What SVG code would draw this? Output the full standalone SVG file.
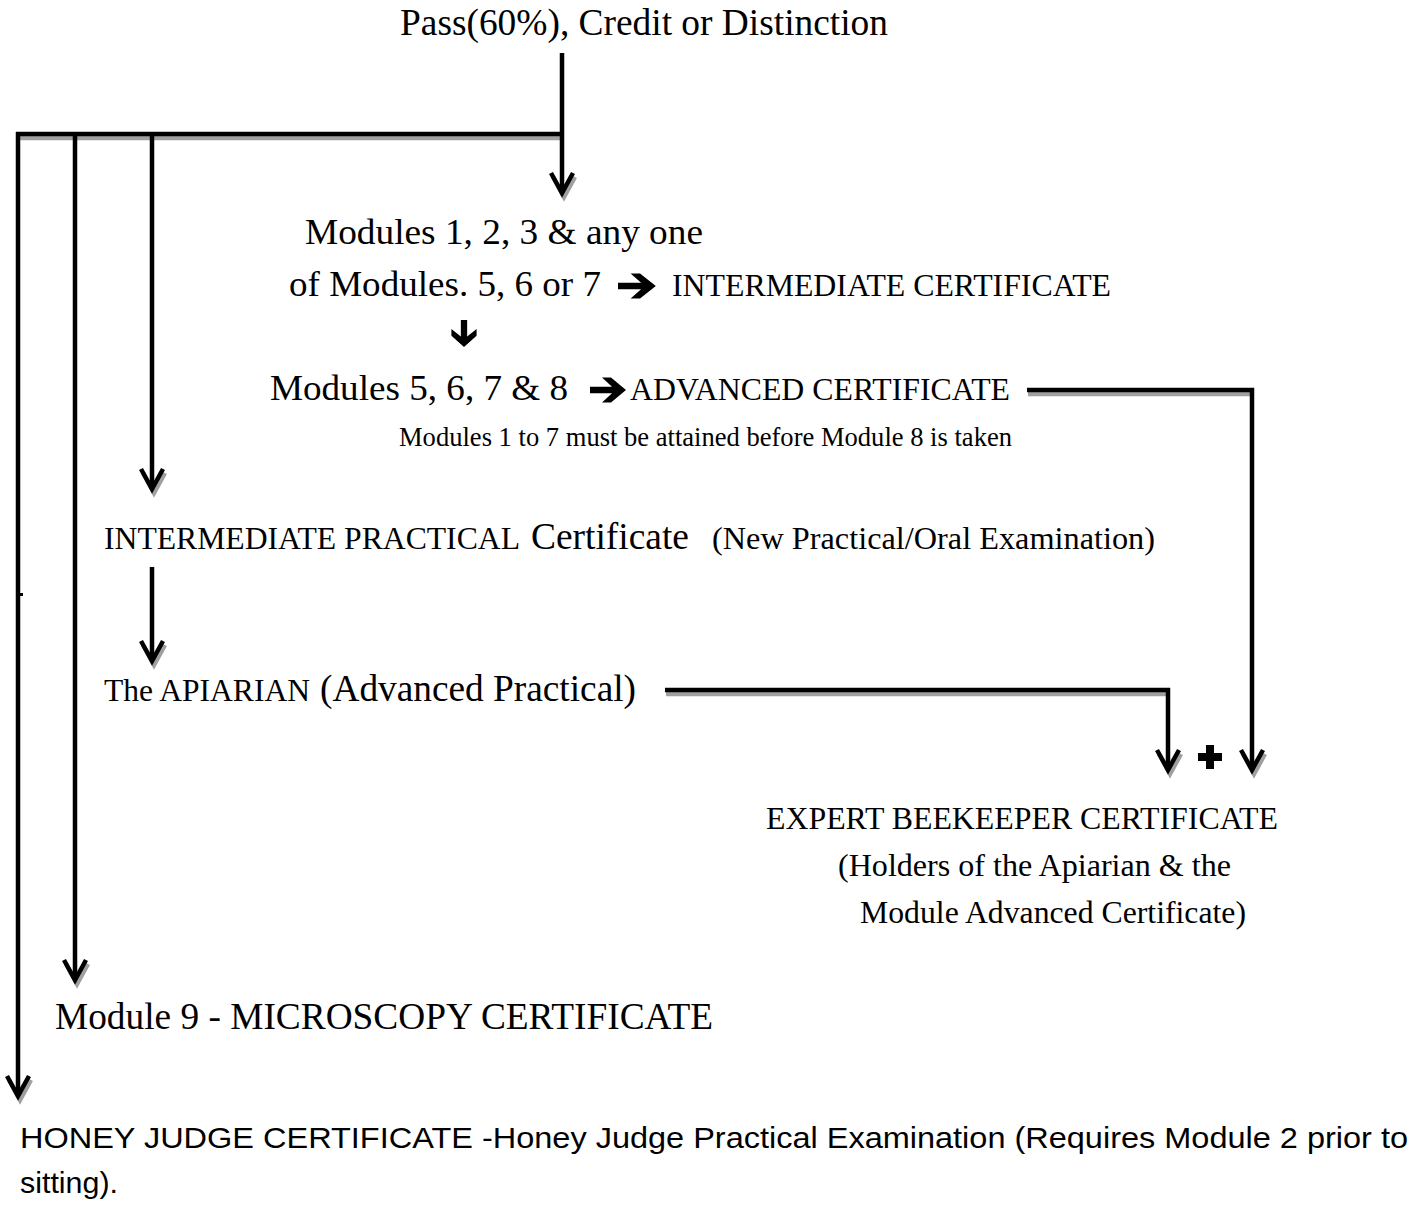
<svg xmlns="http://www.w3.org/2000/svg" width="1424" height="1207" viewBox="0 0 1424 1207">
<style>
.t{font-family:"Liberation Serif","Times New Roman",Times,serif;fill:#000}
.s{font-family:"Liberation Sans",Arial,sans-serif;fill:#000}
.ln{fill:none;stroke:#000;stroke-width:4.5;stroke-linejoin:miter;stroke-linecap:butt}
.sh{fill:none;stroke:#a0a0a0;stroke-width:4.5;stroke-linejoin:miter}
.ah{fill:none;stroke:#000;stroke-width:4.5;stroke-linejoin:miter}
.ash{fill:none;stroke:#a0a0a0;stroke-width:4.5;stroke-linejoin:miter}
.hv{fill:#000}
</style>
<defs>
  <path id="heavy" d="M0 -3.5 H22 L12 -14 H21 L36 0 L21 14 H12 L22 3.5 H0 Z"/>
</defs>
<rect width="1424" height="1207" fill="#fff"/>
<g id="connectors">
  <g transform="translate(1,4)">
    <path class="sh" d="M16 134 H562"/>
    <path class="sh" d="M1027 390 H1252"/>
    <path class="sh" d="M665 690 H1168"/>
  </g>
  <g transform="translate(2,4)">
    <path class="ash" d="M551 173 L562 193 L573 173"/>
    <path class="ash" d="M7 1076 L18 1096 L29 1076"/>
    <path class="ash" d="M64 960 L75 980 L86 960"/>
    <path class="ash" d="M141 469 L152 489 L163 469"/>
    <path class="ash" d="M141 641 L152 661 L163 641"/>
    <path class="ash" d="M1157 750 L1168 770 L1179 750"/>
    <path class="ash" d="M1241 750 L1252 770 L1263 750"/>
  </g>
  <path class="ln" d="M562 53 V192"/>
  <path class="ln" d="M16 134 H562"/>
  <path class="ln" d="M18 132 V1094"/>
  <path class="ln" d="M75 132 V978"/>
  <path class="ln" d="M152 132 V487"/>
  <path class="ln" d="M152 567 V659"/>
  <path class="ln" d="M1027 390 H1252 V768"/>
  <path class="ln" d="M665 690 H1168 V768"/>
  <path class="ah" d="M551 173 L562 193 L573 173"/>
  <path class="ah" d="M7 1076 L18 1096 L29 1076"/>
  <path class="ah" d="M64 960 L75 980 L86 960"/>
  <path class="ah" d="M141 469 L152 489 L163 469"/>
  <path class="ah" d="M141 641 L152 661 L163 641"/>
  <path class="ah" d="M1157 750 L1168 770 L1179 750"/>
  <path class="ah" d="M1241 750 L1252 770 L1263 750"/>
  <rect x="20" y="593" width="3" height="3" fill="#000"/>
</g>
<g id="node-pass">
  <text class="t" x="400" y="35" font-size="37" textLength="488" lengthAdjust="spacingAndGlyphs">Pass(60%), Credit or Distinction</text>
</g>
<g id="node-intermediate">
  <text class="t" x="305" y="244" font-size="36.5" textLength="398" lengthAdjust="spacingAndGlyphs">Modules 1, 2, 3 &amp; any one</text>
  <text class="t" x="289" y="296" font-size="36" textLength="312" lengthAdjust="spacingAndGlyphs">of Modules. 5, 6 or 7</text>
  <use href="#heavy" class="hv" transform="translate(618,286) scale(1.05,0.9)"/>
  <text class="t" x="672" y="296" font-size="31" textLength="439" lengthAdjust="spacingAndGlyphs">INTERMEDIATE CERTIFICATE</text>
  <use href="#heavy" class="hv" transform="translate(464,320) rotate(90) scale(0.75,0.9)"/>
</g>
<g id="node-advanced">
  <text class="t" x="270" y="400" font-size="36" textLength="298" lengthAdjust="spacingAndGlyphs">Modules 5, 6, 7 &amp; 8</text>
  <use href="#heavy" class="hv" transform="translate(590,390) scale(1.0,0.9)"/>
  <text class="t" x="630" y="400" font-size="31" textLength="380" lengthAdjust="spacingAndGlyphs">ADVANCED CERTIFICATE</text>
  <text class="t" x="399" y="446" font-size="26.5" textLength="613" lengthAdjust="spacingAndGlyphs">Modules 1 to 7 must be attained before Module 8 is taken</text>
</g>
<g id="node-int-practical">
  <text class="t" x="104" y="549" font-size="31" textLength="416" lengthAdjust="spacingAndGlyphs">INTERMEDIATE PRACTICAL</text>
  <text class="t" x="531" y="549" font-size="37" textLength="158" lengthAdjust="spacingAndGlyphs">Certificate</text>
  <text class="t" x="712" y="549" font-size="32" textLength="443" lengthAdjust="spacingAndGlyphs">(New Practical/Oral Examination)</text>
</g>
<g id="node-apiarian">
  <text class="t" x="104" y="701" font-size="31" textLength="206" lengthAdjust="spacingAndGlyphs">The APIARIAN</text>
  <text class="t" x="320" y="701" font-size="37" textLength="316" lengthAdjust="spacingAndGlyphs">(Advanced Practical)</text>
</g>
<g id="node-plus">
  <path class="hv" d="M1206 745 H1214 V753 H1222 V761 H1214 V769 H1206 V761 H1198 V753 H1206 Z"/>
</g>
<g id="node-expert">
  <text class="t" x="766" y="829" font-size="31" textLength="512" lengthAdjust="spacingAndGlyphs">EXPERT BEEKEEPER CERTIFICATE</text>
  <text class="t" x="838" y="876" font-size="31" textLength="393" lengthAdjust="spacingAndGlyphs">(Holders of the Apiarian &amp; the</text>
  <text class="t" x="860" y="923" font-size="31" textLength="386" lengthAdjust="spacingAndGlyphs">Module Advanced Certificate)</text>
</g>
<g id="node-microscopy">
  <text class="t" x="55" y="1029" font-size="37" textLength="658" lengthAdjust="spacingAndGlyphs">Module 9 - MICROSCOPY CERTIFICATE</text>
</g>
<g id="node-honey">
  <text class="s" x="20" y="1148" font-size="30" textLength="1388" lengthAdjust="spacingAndGlyphs">HONEY JUDGE CERTIFICATE -Honey Judge Practical Examination (Requires Module 2 prior to</text>
  <text class="s" x="20" y="1193" font-size="30" textLength="98" lengthAdjust="spacingAndGlyphs">sitting).</text>
</g>
</svg>
